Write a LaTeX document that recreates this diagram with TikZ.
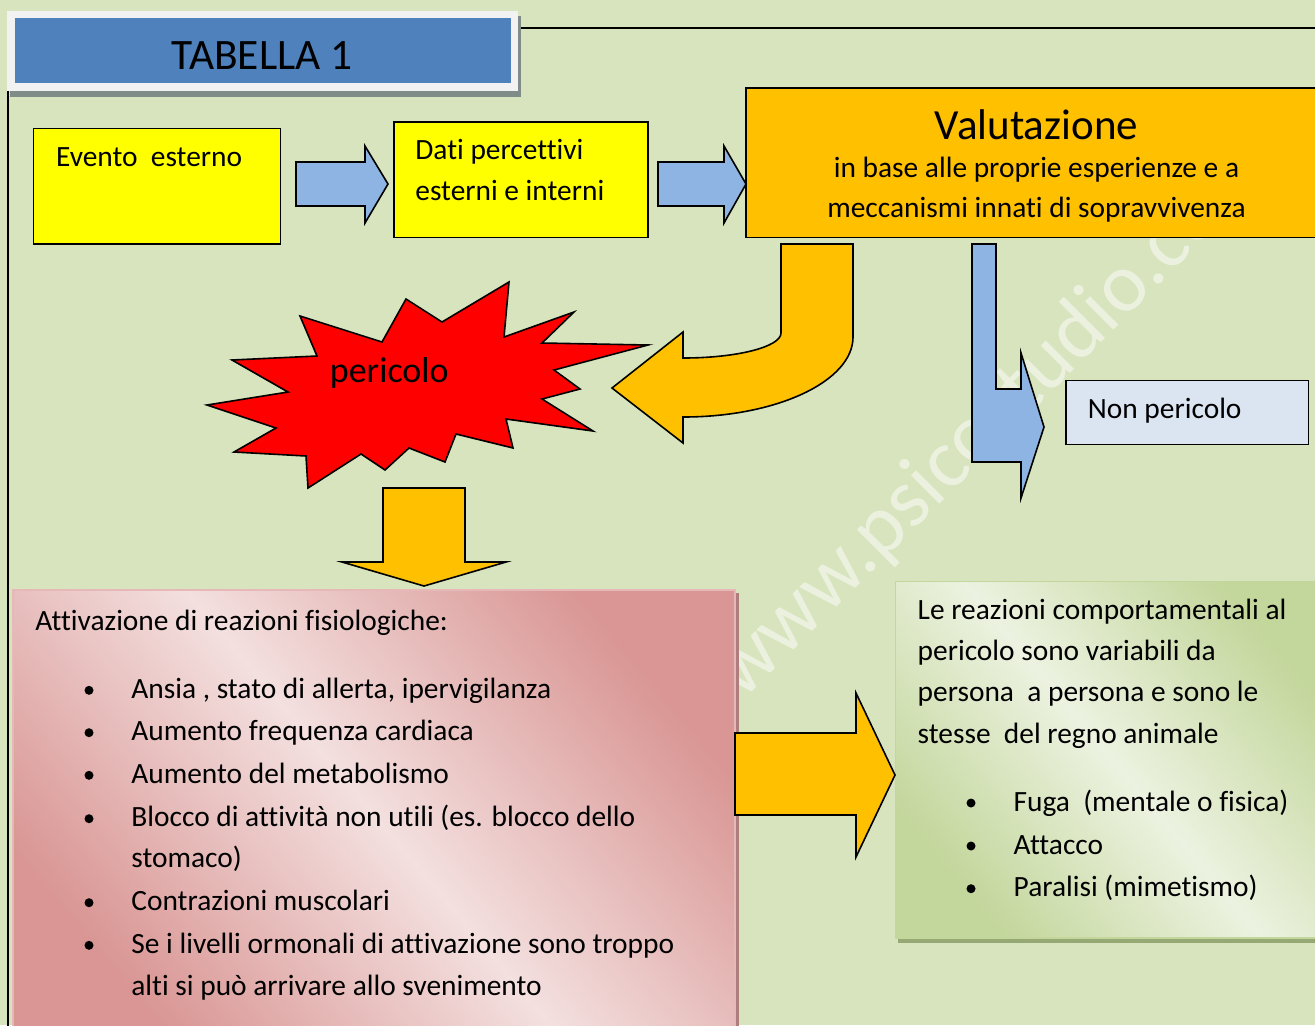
\documentclass[tikz,border=0pt]{standalone}
\usepackage{fontspec}
\setmainfont{Carlito}[Ligatures=NoCommon]
\definecolor{bg}{RGB}{215,228,189}
\definecolor{ttlblue}{RGB}{79,129,189}
\definecolor{ttlframe}{RGB}{242,242,242}
\definecolor{ttlshadow}{RGB}{128,140,136}
\definecolor{arrblue}{RGB}{141,180,226}
\definecolor{orng}{RGB}{255,192,0}
\definecolor{yel}{RGB}{255,255,0}
\definecolor{npblue}{RGB}{219,229,241}
\definecolor{redst}{RGB}{255,0,0}
\definecolor{pinkL}{RGB}{243,224,223}
\definecolor{pinkD}{RGB}{217,150,148}
\definecolor{pinkB}{RGB}{230,185,184}
\definecolor{pinkSh}{RGB}{175,125,125}
\definecolor{grnL}{RGB}{236,242,224}
\definecolor{grnD}{RGB}{195,214,155}
\definecolor{grnSh}{RGB}{150,168,115}
\pgfdeclarehorizontalshading{pinkdiag}{100bp}{color(0bp)=(pinkD); color(25bp)=(pinkD); color(50bp)=(pinkL); color(75bp)=(pinkD); color(100bp)=(pinkD)}
\pgfdeclarehorizontalshading{grndiag}{100bp}{color(0bp)=(grnD); color(25bp)=(grnD); color(50bp)=(grnL); color(75bp)=(grnD); color(100bp)=(grnD)}
\tikzset{
  box/.style={draw=black, line width=0.9pt, inner sep=0pt, rectangle},
  txt/.style={inner sep=0pt, anchor=base west, font=\fontsize{14.7pt}{17pt}\selectfont},
  ctxt/.style={inner sep=0pt, anchor=base, font=\fontsize{14.7pt}{17pt}\selectfont},
  blk/.style={draw=black, line width=0.8pt, line join=miter},
  wm/.style={rotate=45, anchor=base west, inner sep=0pt, text=white, text opacity=0.5,
    font=\fontsize{42pt}{42pt}\selectfont},
  bul/.style={fill=black}
}
\begin{document}
\begin{tikzpicture}[x=0.5pt,y=-0.5pt]
\useasboundingbox (0,0) rectangle (1315,1025);
\clip (0,0) rectangle (1315,1025);
% background
\fill[bg] (0,0) rectangle (1315,1025);
% page frame lines
\draw[black, line width=1pt] (518,28) -- (1320,28);
\draw[black, line width=1pt] (7.5,90) -- (7.5,1030);
% watermark
\node[wm] (wmark) at (742,702) {www.psicostudio.com};
% title
\fill[ttlshadow] (10,16) rectangle (521,96.5);
\node[rectangle, fill=ttlframe, inner sep=0pt, minimum width=255.5pt, minimum height=40pt] (ttlframe) at (262.5,50.5) {};
\node[rectangle, fill=ttlblue, inner sep=0pt, minimum width=248pt, minimum height=32.5pt] (ttl) at (263,50.8) {};
\node[inner sep=0pt, anchor=base, font=\fontsize{21.7pt}{24pt}\selectfont] (ttltext) at (262,69.3) {TABELLA 1};
% top boxes
\node[box, fill=yel, minimum width=123.5pt, minimum height=57.75pt] (evento) at (157,186.25) {};
\node[box, fill=yel, minimum width=127pt, minimum height=57.75pt] (dati) at (521,179.75) {};
\node[box, fill=orng, minimum width=292pt, minimum height=74.75pt] (valut) at (1038,162.75) {};
\node[box, fill=npblue, minimum width=121.25pt, minimum height=32pt] (nonper) at (1187.25,412.5) {};
% shadows of bottom boxes
\fill[pinkSh] (16,593) rectangle (738.5,1040);
\fill[grnSh] (898,586) rectangle (1330,943);
\node[rectangle, inner sep=0pt, shading=pinkdiag, shading angle=40, draw=pinkB, line width=0.6pt,
  minimum width=361pt, minimum height=225pt] (fisio) at (374,815) {};
\node[rectangle, inner sep=0pt, shading=grndiag, shading angle=40, draw=grnD, line width=0.6pt,
  minimum width=217.25pt, minimum height=178.25pt] (comp) at (1112.75,759.75) {};
% blue straight arrows
\draw[blk, fill=arrblue] (296,162) -- (365,162) -- (365,146) -- (388,184) -- (365,223) -- (365,206) -- (296,206) -- cycle;
\draw[blk, fill=arrblue] (658,162) -- (724,162) -- (724,146) -- (746,184) -- (724,223) -- (724,206) -- (658,206) -- cycle;
% U-turn orange arrow
\draw[blk, fill=orng] (781,244) -- (853,244) -- (853,337)
  .. controls (853,381.2) and (776.8,417) .. (683,417)
  -- (683,443) -- (612,388) -- (683,332) -- (683,358)
  .. controls (737.1,358) and (781,346.8) .. (781,333) -- cycle;
% bent blue arrow
\draw[blk, fill=arrblue] (972,244) -- (996,244) -- (996,389) -- (1021,389) -- (1021,353) -- (1044,427)
  -- (1021,498) -- (1021,462) -- (972,462) -- cycle;
% red starburst
\draw[blk, fill=redst] (300,316) -- (382,342) -- (406,299) -- (442,322) -- (509,282) -- (504,337)
  -- (574,312) -- (542,343) -- (648,345) -- (554,370) -- (580,389) -- (542,399) -- (593,431)
  -- (506,419) -- (513,448) -- (456,434) -- (445,462) -- (409,448) -- (385,470) -- (361,454)
  -- (308,488) -- (306,456) -- (234,452) -- (276,428) -- (207,405) -- (288,392) -- (232,360)
  -- (317,356) -- cycle;
% orange down arrow
\draw[blk, fill=orng] (383,488) -- (465,488) -- (465,562) -- (506,562) -- (424,586) -- (342,562) -- (383,562) -- cycle;
% orange right arrow
\draw[blk, fill=orng] (735,733) -- (856,733) -- (856,693) -- (895,775) -- (856,857) -- (856,815) -- (735,815) -- cycle;
% texts in top boxes
\node[txt] (t-evento) at (55.7,166.7) {Evento\ \ esterno};
\node[txt] (t-dati1) at (415,159.7) {Dati percettivi};
\node[txt] (t-dati2) at (415,200.7) {esterni e interni};
\node[inner sep=0pt, anchor=base, font=\fontsize{21.5pt}{24pt}\selectfont] (t-valut) at (1036.5,139) {Valutazione};
\node[ctxt] (t-valut1) at (1036.5,177.9) {in base alle proprie esperienze e a};
\node[ctxt] (t-valut2) at (1036.5,217.9) {meccanismi innati di sopravvivenza};
\node[inner sep=0pt, anchor=base west, font=\fontsize{18pt}{22pt}\selectfont] (t-peric) at (329.5,382.7) {pericolo};
\node[txt] (t-nonper) at (1087.5,418.6) {Non pericolo};
% pink box texts
\node[txt] (p0) at (35,630) {Attivazione di reazioni fisiologiche:};
\node[txt] (p1) at (131,698.3) {Ansia , stato di allerta, ipervigilanza};
\node[txt] (p2) at (131,740.7) {Aumento frequenza cardiaca};
\node[txt] (p3) at (131,783.3) {Aumento del metabolismo};
\node[txt] (p4) at (131,826.7) {Blocco di attività non utili (es. blocco dello};
\node[txt] (p4b) at (131,867.7) {stomaco)};
\node[txt] (p5) at (131,910.7) {Contrazioni muscolari};
\node[txt] (p6) at (131,953.3) {Se i livelli ormonali di attivazione sono troppo};
\node[txt] (p6b) at (131,995) {alti si può arrivare allo svenimento};
\foreach \yy in {690.3,732.7,775.3,818.7,902.7,945.3} \fill[bul] (89,\yy) circle[radius=4.5];
% green box texts
\node[txt] (g1) at (917.3,619.3) {Le reazioni comportamentali al};
\node[txt] (g2) at (917.3,660.5) {pericolo sono variabili da};
\node[txt] (g3) at (917.3,701.7) {persona\ \ a persona e sono le};
\node[txt] (g4) at (917.3,743.3) {stesse\ \ del regno animale};
\node[txt] (g5) at (1013.3,811) {Fuga\ \ (mentale o fisica)};
\node[txt] (g6) at (1013.3,854) {Attacco};
\node[txt] (g7) at (1013.3,896.7) {Paralisi (mimetismo)};
\foreach \yy in {803,846,888.7} \fill[bul] (971,\yy) circle[radius=4.5];
\end{tikzpicture}
\end{document}
